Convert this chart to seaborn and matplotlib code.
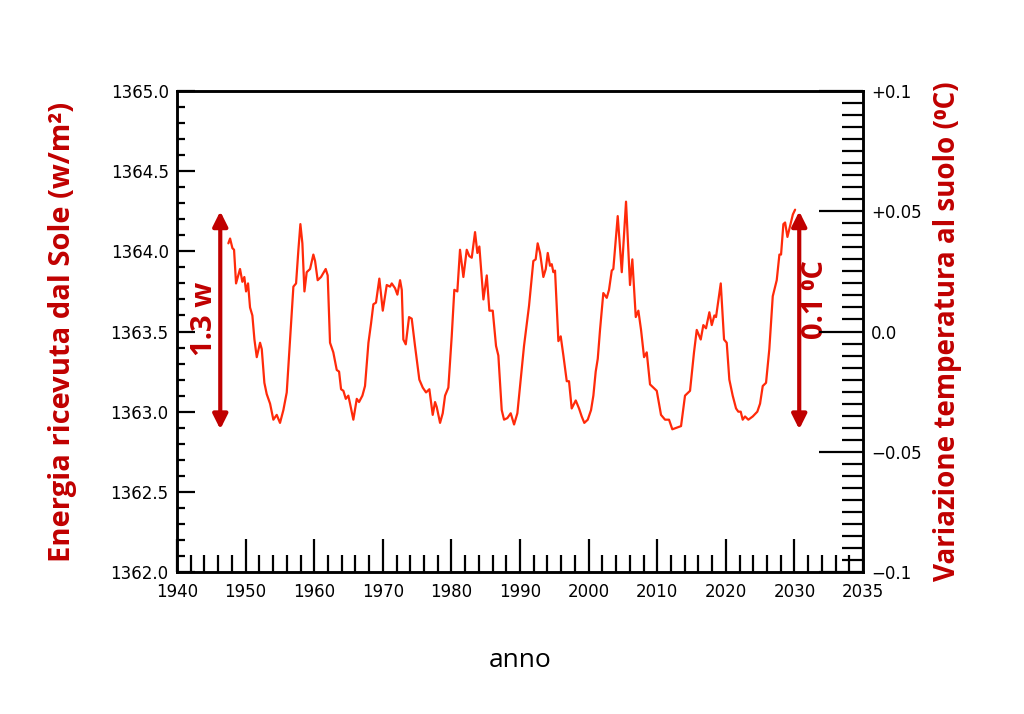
import numpy as np
import pandas as pd
import matplotlib
matplotlib.use("Agg")
import matplotlib.pyplot as plt
from matplotlib.ticker import MultipleLocator, FixedLocator
import seaborn as sns

# solar irradiance curve
years = [
    1947.48, 1947.73, 1948.07, 1948.31, 1948.60, 1949.18, 1949.52, 1949.81, 1950.06, 1950.35,
    1950.64, 1950.98, 1951.28, 1951.62, 1952.10, 1952.35, 1952.73, 1953.07, 1953.56, 1954.04,
    1954.53, 1955.01, 1955.50, 1955.99, 1956.47, 1956.96, 1957.35, 1957.69, 1957.98, 1958.27,
    1958.57, 1958.90, 1959.39, 1959.87, 1960.12, 1960.50, 1960.99, 1961.67, 1961.96, 1962.30,
    1962.78, 1963.28, 1963.62, 1963.91, 1964.25, 1964.60, 1964.97, 1965.22, 1965.70, 1966.20,
    1966.53, 1967.02, 1967.40, 1967.90, 1968.28, 1968.62, 1969.00, 1969.49, 1969.99, 1970.57,
    1971.05, 1971.30, 1971.78, 1972.12, 1972.51, 1972.76, 1972.99, 1973.34, 1973.82, 1974.21,
    1974.69, 1975.32, 1975.82, 1976.30, 1976.78, 1977.27, 1977.61, 1977.85, 1978.34, 1978.73,
    1979.07, 1979.55, 1980.04, 1980.42, 1980.86, 1981.25, 1981.74, 1982.23, 1982.61, 1982.96,
    1983.44, 1983.78, 1984.07, 1984.66, 1985.15, 1985.53, 1986.02, 1986.50, 1986.84, 1987.33,
    1987.67, 1988.15, 1988.64, 1989.13, 1989.61, 1990.00, 1990.58, 1991.31, 1991.94, 1992.28,
    1992.57, 1992.92, 1993.40, 1993.75, 1994.04, 1994.37, 1994.62, 1994.86, 1995.10, 1995.59,
    1995.93, 1996.32, 1996.81, 1997.14, 1997.53, 1998.12, 1998.60, 1998.99, 1999.37, 1999.87,
    2000.35, 2000.69, 2001.03, 2001.33, 2001.66, 2002.14, 2002.64, 2002.97, 2003.37, 2003.60,
    2004.24, 2004.83, 2005.45, 2006.03, 2006.37, 2006.87, 2007.25, 2007.64, 2008.08, 2008.47,
    2008.95, 2009.43, 2009.93, 2010.55, 2011.14, 2011.72, 2012.20, 2012.84, 2013.47, 2014.05,
    2014.78, 2015.36, 2015.76, 2016.34, 2016.72, 2017.11, 2017.60, 2017.95, 2018.33, 2018.57,
    2019.26, 2019.74, 2020.13, 2020.51, 2021.00, 2021.49, 2021.82, 2022.17, 2022.46, 2022.80,
    2023.28, 2023.92, 2024.59, 2024.99, 2025.38, 2025.86, 2026.34, 2026.84, 2027.42, 2027.81,
    2028.05, 2028.39, 2028.64, 2028.98, 2029.37, 2029.77, 2030.10,
]
tsi = [
    1364.05, 1364.08, 1364.02, 1364.01, 1363.80, 1363.89, 1363.81, 1363.84, 1363.75, 1363.80,
    1363.65, 1363.60, 1363.45, 1363.34, 1363.43, 1363.39, 1363.18, 1363.11, 1363.05, 1362.95,
    1362.98, 1362.93, 1363.01, 1363.12, 1363.45, 1363.78, 1363.80, 1364.01, 1364.17, 1364.05,
    1363.75, 1363.87, 1363.89, 1363.98, 1363.94, 1363.82, 1363.84, 1363.89, 1363.85, 1363.43,
    1363.37, 1363.26, 1363.25, 1363.14, 1363.13, 1363.08, 1363.10, 1363.05, 1362.95, 1363.08,
    1363.06, 1363.10, 1363.16, 1363.43, 1363.55, 1363.67, 1363.68, 1363.83, 1363.63, 1363.79,
    1363.78, 1363.80, 1363.77, 1363.73, 1363.82, 1363.76, 1363.45, 1363.42, 1363.59, 1363.58,
    1363.41, 1363.20, 1363.15, 1363.12, 1363.14, 1362.98, 1363.06, 1363.03, 1362.93, 1362.99,
    1363.10, 1363.15, 1363.47, 1363.76, 1363.75, 1364.01, 1363.84, 1364.01, 1363.97, 1363.96,
    1364.12, 1363.99, 1364.03, 1363.70, 1363.85, 1363.63, 1363.63, 1363.41, 1363.35, 1363.01,
    1362.95, 1362.96, 1362.99, 1362.92, 1362.99, 1363.16, 1363.41, 1363.66, 1363.94, 1363.95,
    1364.05, 1363.99, 1363.84, 1363.89, 1363.99, 1363.91, 1363.92, 1363.87, 1363.88, 1363.44,
    1363.47, 1363.35, 1363.19, 1363.19, 1363.02, 1363.07, 1363.02, 1362.97, 1362.93, 1362.95,
    1363.01, 1363.10, 1363.25, 1363.33, 1363.51, 1363.74, 1363.71, 1363.76, 1363.88, 1363.89,
    1364.22, 1363.87, 1364.31, 1363.79, 1363.95, 1363.59, 1363.63, 1363.51, 1363.34, 1363.37,
    1363.17, 1363.15, 1363.13, 1362.98, 1362.95, 1362.95, 1362.89, 1362.90, 1362.91, 1363.10,
    1363.13, 1363.37, 1363.51, 1363.45, 1363.54, 1363.52, 1363.62, 1363.54, 1363.60, 1363.59,
    1363.80, 1363.45, 1363.43, 1363.20, 1363.10, 1363.02, 1363.00, 1363.00, 1362.95, 1362.97,
    1362.95, 1362.97, 1363.00, 1363.05, 1363.16, 1363.18, 1363.39, 1363.72, 1363.82, 1363.98,
    1363.98, 1364.17, 1364.18, 1364.09, 1364.16, 1364.23, 1364.26,
]

x_ticks = [1940, 1950, 1960, 1970, 1980, 1990, 2000, 2010, 2020, 2030, 2040]
x_labels = ["1940", "1950", "1960", "1970", "1980", "1990", "2000", "2010", "2020", "2030", "2035"]
temp_ticks = [-0.1, -0.05, 0.0, 0.05, 0.1]
temp_labels = ["\u22120.1", "\u22120.05", "0.0", "+0.05", "+0.1"]

DARK_RED = "#c00000"
LINE_RED = "#ff2a0a"

sns.set_style("ticks")
plt.rcParams["font.family"] = ["DejaVu Sans"]
plt.rcParams["axes.linewidth"] = 1.8
plt.rcParams["axes.edgecolor"] = "black"
plt.rcParams["text.color"] = "black"
plt.rcParams["axes.labelcolor"] = "black"
plt.rcParams["xtick.color"] = "black"
plt.rcParams["ytick.color"] = "black"
LABEL_FONT = ["Open Sans", "DejaVu Sans"]

df = pd.DataFrame({"anno": years, "tsi": tsi})

fig = plt.figure(figsize=(10.24, 7.14), dpi=100)
ax = fig.add_axes([0.1729, 0.1989, 0.6699, 0.6736])

sns.lineplot(data=df, x="anno", y="tsi", ax=ax, color=LINE_RED, lw=1.6,
             estimator=None, sort=False)

ax.set_xlim(1940, 2040)
ax.set_ylim(1362.0, 1365.0)

# x axis: inward ticks, last label reads 2035 as in the original
ax.xaxis.set_major_locator(FixedLocator(x_ticks))
ax.set_xticklabels(x_labels)
ax.xaxis.set_minor_locator(MultipleLocator(2))
ax.tick_params(axis="x", which="major", direction="in", length=24, width=1.6,
               labelsize=12, pad=8)
ax.tick_params(axis="x", which="minor", direction="in", length=12, width=1.6)

ax.yaxis.set_major_locator(MultipleLocator(0.5))
ax.yaxis.set_minor_locator(MultipleLocator(0.1))
ax.yaxis.set_major_formatter(matplotlib.ticker.FormatStrFormatter("%.1f"))
ax.tick_params(axis="y", which="major", direction="in", length=13, width=1.6,
               labelsize=12, pad=6, right=False)
ax.tick_params(axis="y", which="minor", direction="in", length=6, width=1.6,
               right=True)

ax.set_xlabel("anno", fontsize=19, family=LABEL_FONT, labelpad=34)
ax.set_ylabel("Energia ricevuta dal Sole (w/m\u00b2)", fontsize=21, fontweight="bold",
              color=DARK_RED, family=LABEL_FONT, labelpad=24)

# temperature axis on the right
ax2 = ax.twinx()
ax2.set_ylim(-0.1, 0.1)
ax2.yaxis.set_major_locator(FixedLocator(temp_ticks))
ax2.set_yticklabels(temp_labels)
ax2.yaxis.set_minor_locator(MultipleLocator(0.005))
ax2.tick_params(axis="y", which="major", direction="in", length=32, width=1.6,
                labelsize=12, pad=6)
ax2.tick_params(axis="y", which="minor", direction="in", length=15, width=1.6)
ax2.set_ylabel("Variazione temperatura al suolo (\u2070C)", fontsize=20,
               fontweight="bold", color=DARK_RED, family=LABEL_FONT,
               rotation=90, labelpad=8)
for side in ["top", "right", "left", "bottom"]:
    ax2.spines[side].set_linewidth(1.8)

# range arrows with their labels
arrow = dict(arrowstyle="<|-|>", color=DARK_RED, lw=3, mutation_scale=22,
             shrinkA=0, shrinkB=0)
ax.annotate("", xy=(1946.3, 1364.25), xytext=(1946.3, 1362.89), arrowprops=arrow)
ax.annotate("", xy=(2030.7, 1364.25), xytext=(2030.7, 1362.89), arrowprops=arrow)
ax.text(1944.0, 1363.58, "1.3 w", rotation=90, ha="center", va="center",
        fontsize=21, fontweight="bold", color=DARK_RED, family=LABEL_FONT)
ax.text(2033.1, 1363.70, "0.1 \u2070C", rotation=90, ha="center", va="center",
        fontsize=21, fontweight="bold", color=DARK_RED, family=LABEL_FONT)

fig.savefig("out.png", dpi=100)
plt.close(fig)
